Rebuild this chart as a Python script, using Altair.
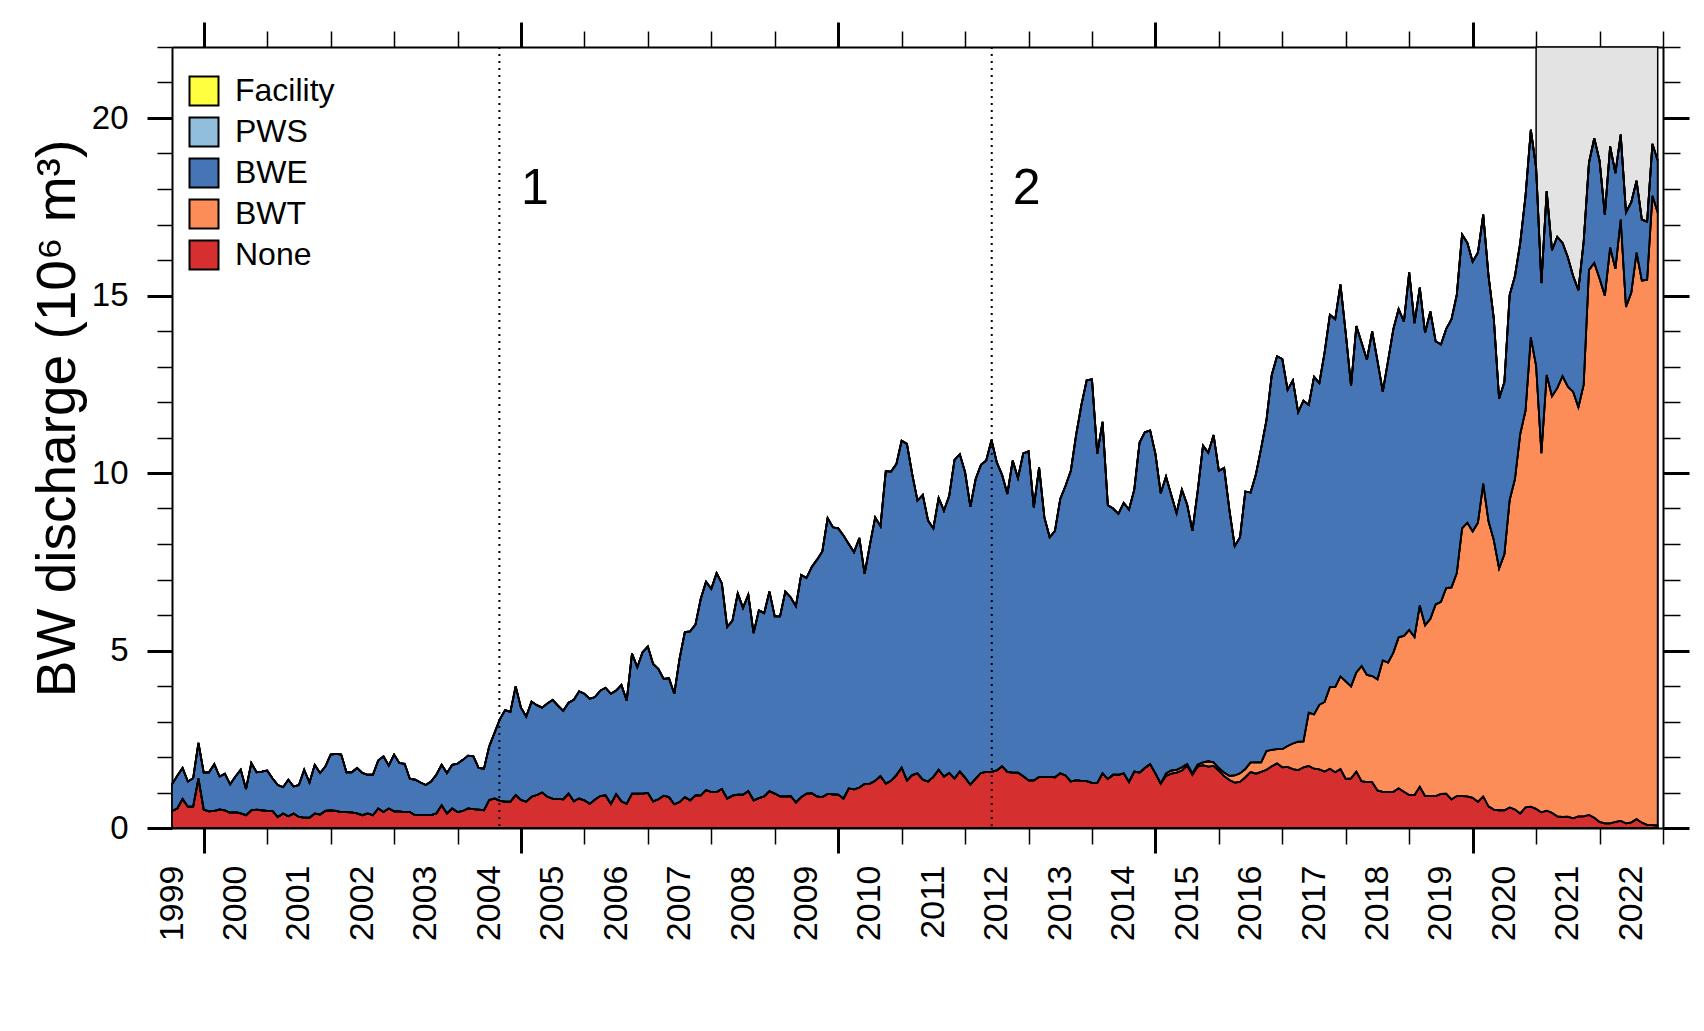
import altair as alt
import pandas as pd

# ---------------- data (monthly, starting July 1999) ----------------
series_names = ["Facility", "PWS", "BWE", "BWT", "None"]
series_colors = ["#ffff40", "#91bfdb", "#4575b4", "#fc8d59", "#d62f2f"]

start_year = 1999.5

# top of the red "None" band
none_top = [
    0.48, 0.55, 0.82, 0.60, 0.60, 1.40, 0.52, 0.47, 0.48, 0.52, 0.50, 0.43,
    0.45, 0.41, 0.36, 0.50, 0.52, 0.50, 0.48, 0.48, 0.31, 0.41, 0.33, 0.41,
    0.31, 0.29, 0.29, 0.41, 0.38, 0.48, 0.50, 0.48, 0.45, 0.45, 0.44, 0.41,
    0.36, 0.41, 0.36, 0.55, 0.45, 0.55, 0.47, 0.47, 0.45, 0.45, 0.36, 0.36,
    0.36, 0.36, 0.41, 0.64, 0.41, 0.55, 0.45, 0.48, 0.55, 0.53, 0.52, 0.50,
    0.79, 0.83, 0.77, 0.74, 0.74, 0.93, 0.79, 0.74, 0.88, 0.93, 1.00, 0.88,
    0.83, 0.82, 0.81, 0.97, 0.75, 0.83, 0.78, 0.68, 0.80, 0.90, 0.92, 0.68,
    0.95, 0.75, 0.68, 0.97, 0.97, 0.97, 0.99, 0.75, 0.81, 0.91, 0.87, 0.67,
    0.73, 0.87, 0.78, 0.92, 0.92, 1.07, 1.01, 1.01, 1.10, 0.83, 0.91, 0.94,
    0.94, 1.04, 0.78, 0.84, 0.89, 1.04, 0.97, 0.89, 0.89, 0.90, 0.72, 0.87,
    0.97, 0.98, 0.89, 0.87, 0.96, 0.95, 0.94, 0.83, 1.11, 1.09, 1.14, 1.24,
    1.25, 1.33, 1.46, 1.25, 1.33, 1.49, 1.70, 1.34, 1.49, 1.54, 1.36, 1.31,
    1.44, 1.64, 1.45, 1.55, 1.39, 1.59, 1.42, 1.22, 1.39, 1.55, 1.58, 1.58,
    1.62, 1.74, 1.58, 1.56, 1.56, 1.46, 1.34, 1.34, 1.44, 1.44, 1.44,
    1.43, 1.54, 1.48, 1.31, 1.35, 1.33, 1.32, 1.27, 1.27, 1.54, 1.38, 1.50,
    1.50, 1.54, 1.30, 1.59, 1.56, 1.69, 1.80, 1.54, 1.25, 1.47, 1.53, 1.56,
    1.62, 1.76, 1.50, 1.73, 1.77, 1.73, 1.75, 1.61, 1.46, 1.35, 1.28, 1.30,
    1.43, 1.58, 1.53, 1.58, 1.64, 1.74, 1.82, 1.71, 1.72, 1.66, 1.63, 1.71,
    1.75, 1.67, 1.65, 1.59, 1.67, 1.57, 1.66, 1.38, 1.40, 1.59, 1.32, 1.29,
    1.29, 1.06, 1.02, 1.02, 1.02, 1.12, 1.02, 0.93, 0.93, 1.16, 0.90, 0.90,
    0.90, 0.96, 0.97, 0.81, 0.90, 0.90, 0.89, 0.85, 0.74, 0.89, 0.61, 0.52,
    0.50, 0.50, 0.58, 0.52, 0.41, 0.58, 0.60, 0.54, 0.44, 0.49, 0.43, 0.33,
    0.31, 0.32, 0.27, 0.33, 0.33, 0.37, 0.29, 0.17, 0.13, 0.13, 0.17, 0.20,
    0.13, 0.16, 0.25, 0.15, 0.09, 0.08, 0.07,
]

# top of the orange "BWT" band (None + BWT), from March 2015 on
bwt_start_index = 188
bwt_top_from_mar2015 = [
    1.54, 1.62, 1.64, 1.71, 1.80, 1.54, 1.79, 1.85, 1.88, 1.85, 1.69, 1.56,
    1.47, 1.48, 1.54, 1.66, 1.85, 1.85, 1.85, 2.17, 2.20, 2.22, 2.22, 2.31,
    2.38, 2.43, 2.44, 3.25, 3.20, 3.47, 3.55, 3.97, 3.97, 4.27, 4.13, 3.99,
    4.38, 4.56, 4.31,
    4.28, 4.19, 4.72, 4.66, 4.94, 5.37, 5.41, 5.58, 5.38, 6.27, 5.71, 5.89,
    6.30, 6.37, 6.76, 6.78, 7.18, 8.44, 8.60, 8.35, 8.60, 9.70, 8.64, 8.11,
    7.31, 7.71, 9.24, 9.83, 11.10, 11.76, 13.82, 13.02, 10.56, 12.76, 12.16, 12.39,
    12.73, 12.43, 12.29, 11.85, 12.49, 15.72, 15.92, 15.48, 14.99, 16.35, 15.75, 17.14,
    14.68, 15.08, 16.21, 15.42, 15.44, 17.81, 17.34,
]

# total discharge (top of the stack)
total_top = [
    1.23, 1.47, 1.69, 1.31, 1.40, 2.40, 1.56, 1.57, 1.80, 1.45, 1.53, 1.23,
    1.45, 1.64, 1.10, 1.83, 1.57, 1.59, 1.62, 1.40, 1.21, 1.15, 1.36, 1.17,
    1.21, 1.64, 1.28, 1.78, 1.55, 1.73, 2.07, 2.09, 2.07, 1.57, 1.57, 1.69,
    1.55, 1.50, 1.50, 1.90, 2.02, 1.76, 2.07, 1.83, 1.81, 1.38, 1.36, 1.28,
    1.21, 1.31, 1.50, 1.78, 1.55, 1.78, 1.81, 1.92, 2.04, 2.02, 1.69, 1.67,
    2.30, 2.68, 3.06, 3.32, 3.27, 3.99, 3.39, 3.14, 3.56, 3.46, 3.39, 3.51,
    3.61, 3.45, 3.30, 3.53, 3.61, 3.85, 3.78, 3.64, 3.69, 3.87, 3.95, 3.78,
    3.87, 4.03, 3.59, 4.91, 4.53, 4.95, 5.11, 4.62, 4.48, 4.20, 4.22, 3.78,
    4.77, 5.52, 5.54, 5.73, 6.45, 6.94, 6.74, 7.18, 6.89, 5.66, 5.84, 6.61,
    6.20, 6.57, 5.49, 6.13, 6.05, 6.66, 5.96, 5.96, 6.66, 6.50, 6.25, 7.13,
    7.04, 7.35, 7.56, 7.79, 8.73, 8.47, 8.44, 8.24, 8.00, 7.77, 8.17, 7.16,
    7.98, 8.75, 8.50, 10.05, 10.04, 10.25, 10.91, 10.82, 9.97, 9.22, 9.38, 8.66,
    8.44, 9.30, 8.94, 9.36, 10.37, 10.53, 10.02, 9.05, 9.83, 10.23, 10.35, 10.93,
    10.30, 9.95, 9.41, 10.35, 9.86, 10.55, 10.61, 9.03, 10.16, 8.75, 8.19,
    8.37, 9.27, 9.64, 10.06, 11.07, 11.92, 12.61, 12.64, 10.54, 11.44, 9.09, 9.00,
    8.85, 9.16, 8.97, 9.53, 10.86, 11.15, 11.20, 10.54, 9.43, 9.90, 9.38, 8.87,
    9.53, 9.11, 8.37, 9.50, 10.77, 10.57, 11.07, 10.06, 10.14, 8.95, 7.94, 8.19,
    9.48, 9.45, 9.96, 10.70, 11.49, 12.76, 13.29, 13.21, 12.34, 12.61, 11.71, 12.04,
    11.92, 12.71, 12.53, 13.40, 14.46, 14.33, 15.31, 13.93, 12.45, 14.14, 13.67, 13.19,
    13.99, 13.16, 12.29, 13.16, 14.05, 14.62, 14.26, 15.65, 14.22, 15.22, 13.95, 14.55,
    13.71, 13.62, 14.06, 14.33, 15.02, 16.72, 16.48, 15.95, 16.21, 17.28, 15.55, 14.35,
    12.09, 12.56, 15.02, 15.55, 16.48, 17.81, 19.67, 18.60, 15.35, 17.94, 16.28, 16.65,
    16.48, 16.08, 15.55, 15.15, 16.52, 18.74, 19.43, 18.80, 17.28, 19.20, 18.45, 19.53,
    17.34, 17.63, 18.23, 17.14, 17.08, 19.27, 18.80,
]

event_years = [2004.66, 2012.42]
event_labels = ["1", "2"]
event_label_x = [2005.22, 2012.97]
event_label_y = [18.0, 18.0]

shade_start = 2021.0

x_domain = [1999.5, 2023.0]
y_domain = [0, 22]
major_x = [2000, 2005, 2010, 2015, 2020]
minor_x = list(range(2000, 2024))
label_x = [yr + 0.5 for yr in range(1999, 2023)]
major_y = [0, 5, 10, 15, 20]
minor_y = list(range(0, 23))

FONT = "Liberation Sans"

# ---------------- tables ----------------
n = min(len(total_top), len(none_top))
bwt_top = none_top[:bwt_start_index] + bwt_top_from_mar2015
t = [start_year + i / 12 for i in range(n)]

rows = []
for i in range(n):
    rows.append(dict(t=t[i], s="None", lo=0.0, hi=none_top[i]))
    rows.append(dict(t=t[i], s="BWT", lo=none_top[i], hi=bwt_top[i]))
    rows.append(dict(t=t[i], s="BWE", lo=bwt_top[i], hi=total_top[i]))
    rows.append(dict(t=t[i], s="PWS", lo=total_top[i], hi=total_top[i]))
    rows.append(dict(t=t[i], s="Facility", lo=total_top[i], hi=total_top[i]))
area_df = pd.DataFrame(rows)
line_df = area_df[area_df["s"].isin(["None", "BWT", "BWE"])]

rule_df = pd.DataFrame({"t": event_years, "lo": [y_domain[0]] * 2, "hi": [y_domain[1]] * 2})
text_df = pd.DataFrame({"t": event_label_x, "v": event_label_y, "lab": event_labels})
shade_df = pd.DataFrame({"t": [shade_start], "t2": [t[-1]], "lo": [y_domain[0]], "hi": [y_domain[1]]})

xs = alt.Scale(domain=x_domain, nice=False, zero=False)
ys = alt.Scale(domain=y_domain, nice=False, zero=False)

BOX = dict(domain=True, domainColor="black", domainWidth=2)


def xaxis(orient, values, size, width, labels=False, box=False, **kw):
    extra = BOX if box else dict(domain=False)
    return alt.Axis(orient=orient, values=values, tickSize=size, tickWidth=width,
                    labels=labels, grid=False, title=None,
                    tickColor="black", **extra, **kw)


def yaxis(orient, values, size, width, labels=False, box=False, **kw):
    extra = BOX if box else dict(domain=False)
    return alt.Axis(orient=orient, values=values, tickSize=size, tickWidth=width,
                    labels=labels, grid=False,
                    tickColor="black", **extra, **kw)


shade = alt.Chart(shade_df).mark_rect(fill="#e3e3e3", stroke="black", strokeWidth=1.5).encode(
    x=alt.X("t:Q", scale=xs,
            axis=alt.Axis(orient="bottom", values=label_x, ticks=False, tickSize=0,
                          labelExpr="floor(datum.value)", labelAngle=270,
                          labelAlign="right", labelBaseline="middle",
                          labelFontSize=34, labelPadding=37, labelFont=FONT,
                          labelColor="black", domain=False, grid=False, title=None,
                          labelOverlap=False)),
    x2="t2:Q",
    y=alt.Y("hi:Q", scale=ys, axis=None),
    y2="lo:Q",
)

area = alt.Chart(area_df).mark_area(stroke="black", strokeWidth=1.8, interpolate="linear").encode(
    x=alt.X("t:Q", scale=xs, axis=xaxis("bottom", major_x, 25, 3, box=True)),
    y=alt.Y("hi:Q", scale=ys,
            axis=yaxis("left", major_y, 25, 3, labels=True, box=True, labelFontSize=33,
                       labelPadding=19, labelFont=FONT, labelColor="black",
                       title="BW discharge (10⁶ m³)", titleFontSize=55,
                       titleFont=FONT, titleFontWeight="normal", titleColor="black",
                       titleX=-98, titleY=371, titleBaseline="alphabetic",
                       titleAngle=270, titleAlign="center")),
    y2="lo:Q",
    color=alt.Color("s:N", scale=alt.Scale(domain=series_names, range=series_colors),
                    legend=alt.Legend(orient="none", legendX=16, legendY=28, title=None,
                                      symbolType="square", symbolSize=841,
                                      symbolStrokeColor="black", symbolStrokeWidth=2,
                                      symbolOpacity=1, labelFontSize=32, labelFont=FONT,
                                      labelColor="black", labelOffset=15, rowPadding=3,
                                      padding=0)),
)

lines = alt.Chart(line_df).mark_line(color="black", strokeWidth=1.8).encode(
    x=alt.X("t:Q", scale=xs, axis=xaxis("bottom", minor_x, 16, 1.5)),
    y=alt.Y("hi:Q", scale=ys, axis=yaxis("left", minor_y, 15, 1.5, title=None)),
    detail="s:N",
)

rules = alt.Chart(rule_df).mark_rule(color="black", strokeWidth=2, strokeDash=[2, 5]).encode(
    x=alt.X("t:Q", scale=xs, axis=xaxis("top", major_x, 25, 3, box=True)),
    y=alt.Y("hi:Q", scale=ys, axis=yaxis("right", major_y, 26, 3, box=True, title=None)),
    y2="lo:Q",
)

texts = alt.Chart(text_df).mark_text(fontSize=50, font=FONT, color="black",
                                     align="center", baseline="middle").encode(
    x=alt.X("t:Q", scale=xs, axis=xaxis("top", minor_x, 16, 1.5)),
    y=alt.Y("v:Q", scale=ys, axis=yaxis("right", minor_y, 17, 1.5, title=None)),
    text="lab:N",
)

chart = alt.layer(shade, area, lines, rules, texts).resolve_axis(
    x="independent", y="independent"
).properties(
    width=1491, height=781,
    autosize=alt.AutoSizeParams(type="none"),
    padding={"left": 164, "top": 39, "right": 33, "bottom": 195},
).configure_view(
    stroke="black", strokeWidth=2
).configure(font=FONT)

chart.save("out.html", embed_options={"renderer": "svg", "actions": False})
